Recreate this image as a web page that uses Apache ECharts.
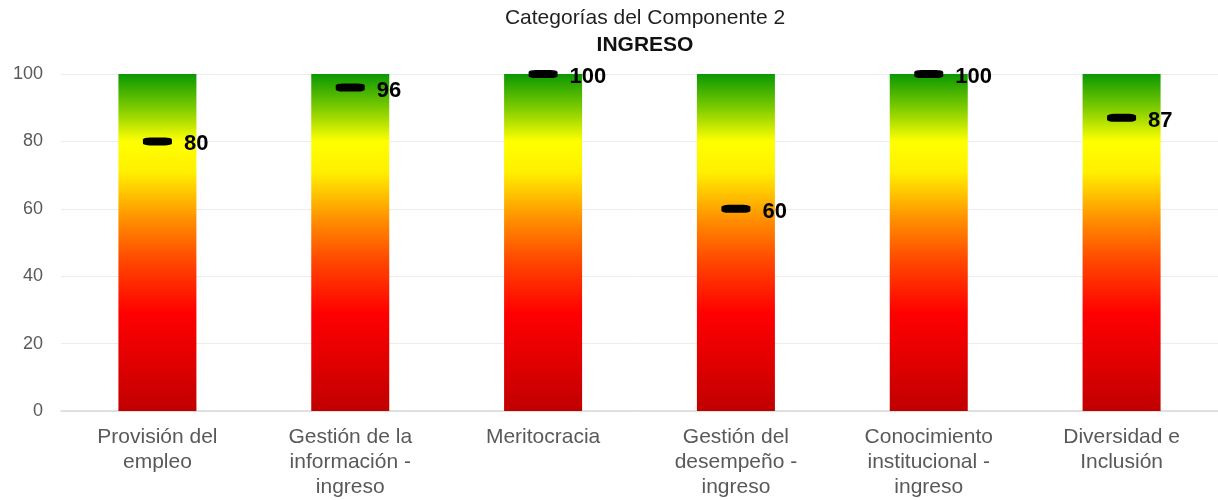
<!DOCTYPE html>
<html>
<head>
<meta charset="utf-8">
<script src="https://cdn.jsdelivr.net/npm/echarts@6/dist/echarts.min.js"></script>
<style>
  html, body { margin: 0; padding: 0; background: #ffffff; }
  #chart { width: 1218px; height: 500px; }
</style>
</head>
<body>
<div id="chart"></div>
<script>
// Categorías del componente "Ingreso" y su puntaje
const categories = [
  'Provisión del\nempleo',
  'Gestión de la\ninformación -\ningreso',
  'Meritocracia',
  'Gestión del\ndesempeño -\ningreso',
  'Conocimiento\ninstitucional -\ningreso',
  'Diversidad e\nInclusión'
];
const scores = [80, 96, 100, 60, 100, 87];
const scaleMax = [100, 100, 100, 100, 100, 100];
const yTicks = { min: 0, max: 100, interval: 20 };

const titleMain = 'Categorías del Componente 2';
const titleSub = 'INGRESO';

const FONT = '"Liberation Sans", Arial, sans-serif';

// Semáforo vertical: verde arriba, rojo abajo
const trafficGradient = new echarts.graphic.LinearGradient(0, 0, 0, 1, [
  { offset: 0.00, color: '#0b9800' },
  { offset: 0.10, color: '#7ccb00' },
  { offset: 0.20, color: '#ffff00' },
  { offset: 0.29, color: '#fff000' },
  { offset: 0.44, color: '#ff8a00' },
  { offset: 0.55, color: '#ff4a00' },
  { offset: 0.71, color: '#ff0000' },
  { offset: 0.86, color: '#e00000' },
  { offset: 1.00, color: '#c00000' }
]);

const chart = echarts.init(document.getElementById('chart'), null, { renderer: 'canvas' });

chart.setOption({
  animation: false,
  backgroundColor: '#ffffff',
  grid: { left: 61, top: 74, bottom: 89, width: 1164, containLabel: false },
  graphic: [
    {
      type: 'text', x: 645, y: 18,
      style: { text: titleMain, font: '21px ' + FONT, fill: '#1f1f1f',
               textAlign: 'center', textVerticalAlign: 'middle' }
    },
    {
      type: 'text', x: 645, y: 45,
      style: { text: titleSub, font: 'bold 21px ' + FONT, fill: '#111111',
               textAlign: 'center', textVerticalAlign: 'middle' }
    }
  ],
  xAxis: {
    type: 'category',
    data: categories,
    axisTick: { show: false },
    axisLine: { lineStyle: { color: '#d9d9d9', width: 1.5 } },
    axisLabel: {
      interval: 0,
      margin: 14,
      fontFamily: FONT,
      fontSize: 21,
      lineHeight: 25,
      color: '#595959'
    }
  },
  yAxis: {
    type: 'value',
    min: yTicks.min,
    max: yTicks.max,
    interval: yTicks.interval,
    axisLine: { show: false },
    axisTick: { show: false },
    splitLine: { lineStyle: { color: '#ececec', width: 1 } },
    axisLabel: {
      margin: 18,
      fontFamily: FONT,
      fontSize: 18,
      color: '#595959'
    }
  },
  series: [
    {
      type: 'bar',
      data: scaleMax,
      barWidth: 78,
      itemStyle: { color: trafficGradient },
      silent: true,
      z: 1
    },
    {
      type: 'scatter',
      data: scores,
      symbol: 'roundRect',
      symbolSize: [29, 8],
      itemStyle: { color: '#000000', opacity: 1 },
      z: 3,
      label: {
        show: true,
        position: 'right',
        distance: 12,
        offset: [0, 3],
        formatter: p => p.value,
        fontFamily: FONT,
        fontSize: 22,
        fontWeight: 'bold',
        color: '#000000',
        opacity: 1
      }
    }
  ]
});
</script>
</body>
</html>
